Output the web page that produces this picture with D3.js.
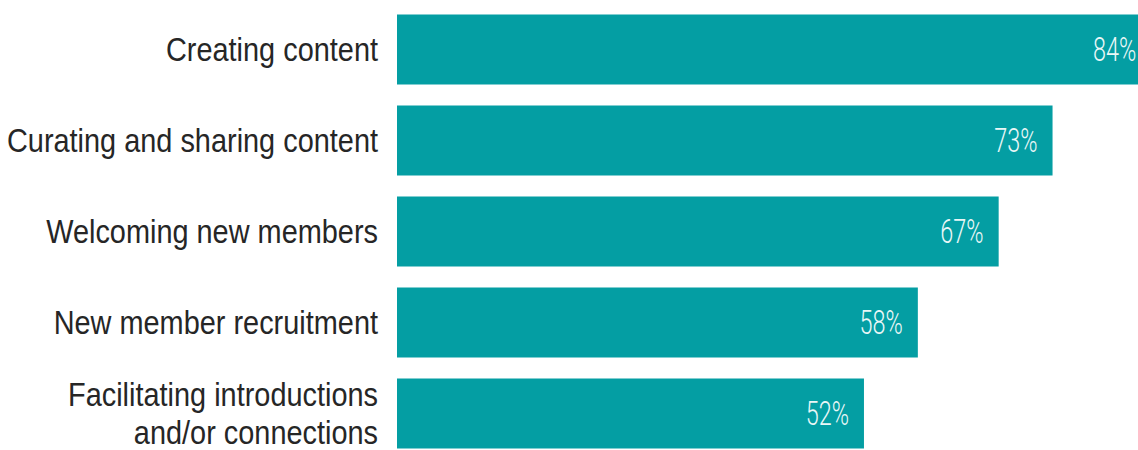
<!DOCTYPE html>
<html>
<head>
<meta charset="utf-8">
<script src="https://cdn.jsdelivr.net/npm/d3@7/dist/d3.min.js"></script>
<style>
  html, body { margin: 0; padding: 0; background: #fff; overflow: hidden; }
  svg { display: block; }
</style>
</head>
<body>
<svg id="chart" width="1138" height="450"></svg>
<script>
// categories, top to bottom
var categories = [
  'Creating content',
  'Curating and sharing content',
  'Welcoming new members',
  'New member recruitment',
  'Facilitating introductions and/or connections'
];
// label lines as printed
var labelLines = [
  ['Creating content'],
  ['Curating and sharing content'],
  ['Welcoming new members'],
  ['New member recruitment'],
  ['Facilitating introductions', 'and/or connections']
];
var values = [84, 73, 67, 58, 52];

var width = 1138, height = 450;
var barColor = '#049ea3';

var svg = d3.select('#chart');

var x = d3.scaleLinear().domain([0, 100]).range([397, 1295]);
var y = d3.scaleBand().domain(categories).range([14.5, 448.5]).paddingInner(21 / 91).paddingOuter(0);

var rows = categories.map(function (c, i) {
  return { cat: c, value: values[i], lines: labelLines[i] };
});

// bars
svg.append('g')
  .selectAll('rect')
  .data(rows)
  .enter().append('rect')
  .attr('x', x(0))
  .attr('y', function (d) { return y(d.cat); })
  .attr('width', function (d) { return x(d.value) - x(0); })
  .attr('height', y.bandwidth())
  .attr('fill', barColor);

// category labels (narrow look via horizontal squeeze)
var lineH = 38;
var labels = svg.append('g')
  .selectAll('g')
  .data(rows)
  .enter().append('g')
  .attr('transform', function (d) {
    var cy = y(d.cat) + y.bandwidth() / 2;
    return 'translate(378,' + cy + ') scale(0.85,1)';
  });
labels.each(function (d) {
  var g = d3.select(this);
  var n = d.lines.length;
  d.lines.forEach(function (t, k) {
    g.append('text')
      .attr('x', 0)
      .attr('y', (k - (n - 1) / 2) * lineH)
      .attr('dy', '0.35em')
      .attr('text-anchor', 'end')
      .style('font-family', '"Liberation Sans", Arial, sans-serif')
      .style('font-size', '34px')
      .style('fill', '#262626')
      .text(t);
  });
});

// value labels inside bars
svg.append('g')
  .selectAll('text')
  .data(rows)
  .enter().append('text')
  .attr('transform', function (d) {
    var cy = y(d.cat) + y.bandwidth() / 2;
    return 'translate(' + (x(d.value) - 15) + ',' + cy + ') scale(0.71,1)';
  })
  .attr('dy', '0.36em')
  .attr('text-anchor', 'end')
  .style('font-family', 'Roboto, "Liberation Sans", sans-serif')
  .style('font-weight', 300)
  .style('font-size', '33px')
  .style('fill', '#eaf7f7')
  .text(function (d) { return d.value + '%'; });
</script>
</body>
</html>
